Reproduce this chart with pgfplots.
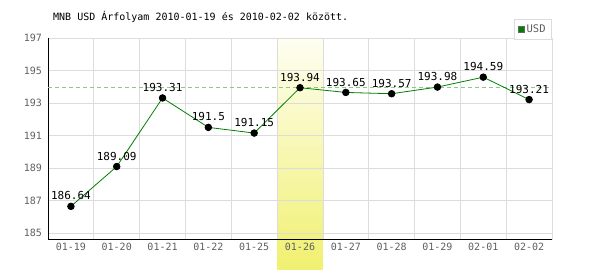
\documentclass[border=0pt]{standalone}
\usepackage{fontspec}
\setmainfont{DejaVu Sans Mono}
\usepackage{pgfplots}
\pgfplotsset{compat=1.18}
\definecolor{tickgray}{RGB}{95,95,95}
\definecolor{gridgray}{RGB}{220,220,220}
\definecolor{linegreen}{RGB}{0,128,0}
\definecolor{dashgreen}{RGB}{140,200,140}
\definecolor{bandtop}{RGB}{254,254,242}
\definecolor{bandbot}{RGB}{240,240,112}
\begin{document}
\begin{tikzpicture}
\begin{axis}[
  at={(48pt,30pt)}, anchor=south west,
  width=504pt, height=202pt, scale only axis,
  set layers, clip=false,
  xmin=-0.5, xmax=10.5, ymin=184.57, ymax=197,
  xtick={0,1,2,3,4,5,6,7,8,9,10},
  xticklabels={01-19,01-20,01-21,01-22,01-25,01-26,01-27,01-28,01-29,02-01,02-02},
  minor xtick={0.5,1.5,2.5,3.5,4.5,5.5,6.5,7.5,8.5,9.5,10.5},
  ytick={185,187,189,191,193,195,197},
  xmajorgrids=false, xminorgrids=true, ymajorgrids=true,
  grid style={gridgray, line width=0.8pt},
  minor grid style={gridgray, line width=0.8pt},
  axis x line*=bottom, axis y line*=left,
  axis line style={black, line width=1pt, -},
  major tick length=0pt, minor tick length=0pt,
  tick label style={font=\fontsize{10}{12}\selectfont, text=tickgray},
  yticklabel style={xshift=-2.5pt},
  /pgf/number format/assume math mode=true,
  title={MNB USD Árfolyam 2010-01-19 és 2010-02-02 között.},
  title style={at={(0.0099,1.074)}, anchor=west, font=\fontsize{10}{12}\selectfont, inner sep=0pt},
  legend style={at={(1,1.094)}, anchor=north east, draw=gridgray, line width=0.8pt,
    fill=white, font=\fontsize{10.5}{12}\selectfont, text=tickgray, inner xsep=4pt, inner ysep=3.5pt},
]
\addplot[draw=none, top color=bandtop, bottom color=bandbot, on layer=axis background, forget plot]
  coordinates {(4.5,197) (5.5,197) (5.5,182.72) (4.5,182.72)} -- cycle;
\addplot[dashgreen, dash pattern=on 4pt off 3pt, line width=0.8pt, forget plot] coordinates {(-0.5,193.98) (10.5,193.98)};
\addplot[linegreen, line width=0.8pt, mark=*, mark size=3.3pt, mark options={fill=black, draw=black},
  nodes near coords, point meta=explicit symbolic,
  every node near coord/.append style={font=\fontsize{11}{13}\selectfont, text=black, yshift=2.5pt},
  legend image code/.code={\draw[fill=linegreen, draw=black!60, line width=0.6pt] (0pt,-3pt) rectangle (6pt,3pt);}]
table[x=x, y=y, meta=lab] {
x y lab
0 186.64 186.64
1 189.09 189.09
2 193.31 193.31
3 191.5 191.5
4 191.15 191.15
5 193.94 193.94
6 193.65 193.65
7 193.57 193.57
8 193.98 193.98
9 194.59 194.59
10 193.21 193.21
};
\addlegendentry{USD}
\end{axis}
\pgfresetboundingbox
\path[use as bounding box] (0pt,0pt) rectangle (600pt,270pt);
\end{tikzpicture}
\end{document}
